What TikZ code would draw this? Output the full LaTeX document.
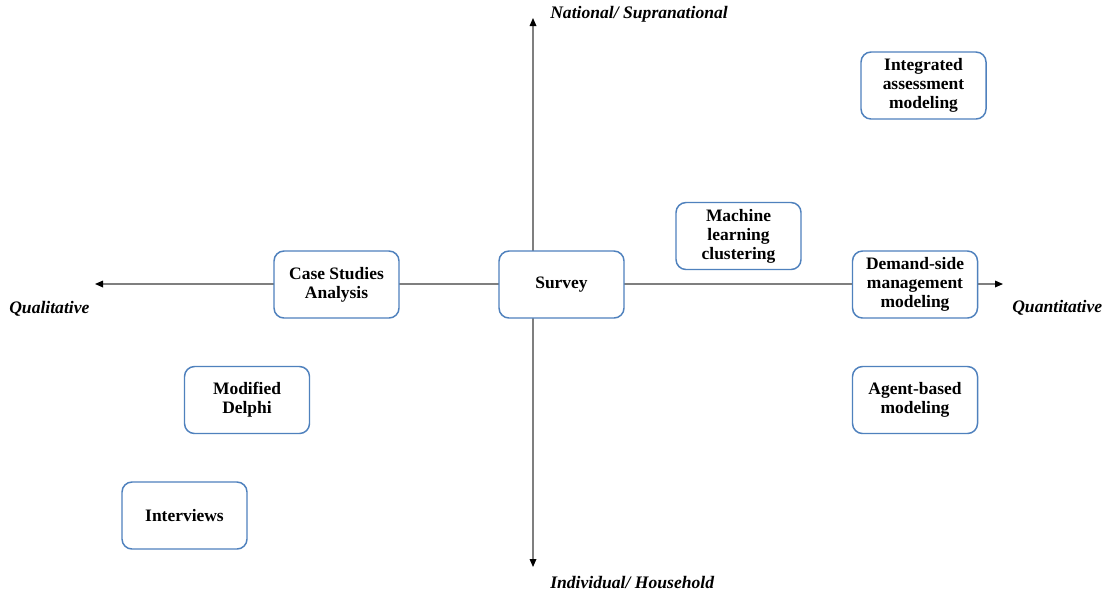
\documentclass[tikz,border=0pt]{standalone}
\usepackage{fontspec}
\setmainfont{Liberation Serif}
\usetikzlibrary{arrows.meta}
\definecolor{boxblue}{HTML}{4F81BD}
\definecolor{axisgray}{HTML}{7F7F7F}
\begin{document}
\begin{tikzpicture}[x=0.75pt,y=-0.75pt,
  method/.style={draw=boxblue,line width=1.1pt,fill=white,rounded corners=7.5pt,
    minimum width=93.75pt,minimum height=50.25pt,align=center,inner sep=2pt,
    font=\fontsize{13.1pt}{14.3pt}\selectfont\bfseries},
  axislabel/.style={anchor=west,inner sep=0pt,font=\fontsize{13.2pt}{14.3pt}\selectfont\bfseries\itshape},
  axisline/.style={draw=axisgray,line width=0.9pt,-{Triangle[length=6pt,width=5pt,fill=black,color=black]}}]
\useasboundingbox (0,0) rectangle (1105,594);
\fill[white] (0,0) rectangle (1105,594);
\coordinate (O) at (533,284);
\coordinate (L) at (95,284);
\coordinate (R) at (1003,284);
\coordinate (T) at (533,18);
\coordinate (B) at (533,567);
\draw[axisline] (O) -- (L);
\draw[axisline] (O) -- (R);
\draw[axisline] (O) -- (T);
\draw[axisline] (O) -- (B);
\node[method] (iam) at (923.5,85.5) {Integrated\\assessment\\modeling};
\node[method] (ml) at (738.5,236) {Machine\\learning\\clustering};
\node[method] (csa) at (336.5,284.5) {Case Studies\\Analysis};
\node[method] (survey) at (561.5,284.5) {Survey};
\node[method] (dsm) at (915,284.5) {Demand-side\\management\\modeling};
\node[method] (md) at (247,400) {Modified\\Delphi};
\node[method] (abm) at (915,400) {Agent-based\\modeling};
\node[method] (int) at (184.5,515.5) {Interviews};
\node[axislabel] (nat) at (550,14) {National/ Supranational};
\node[axislabel] (ind) at (550,582) {Individual/ Household};
\node[axislabel] (qual) at (9,309) {Qualitative};
\node[axislabel] (quant) at (1012,308) {Quantitative};
\end{tikzpicture}
\end{document}
